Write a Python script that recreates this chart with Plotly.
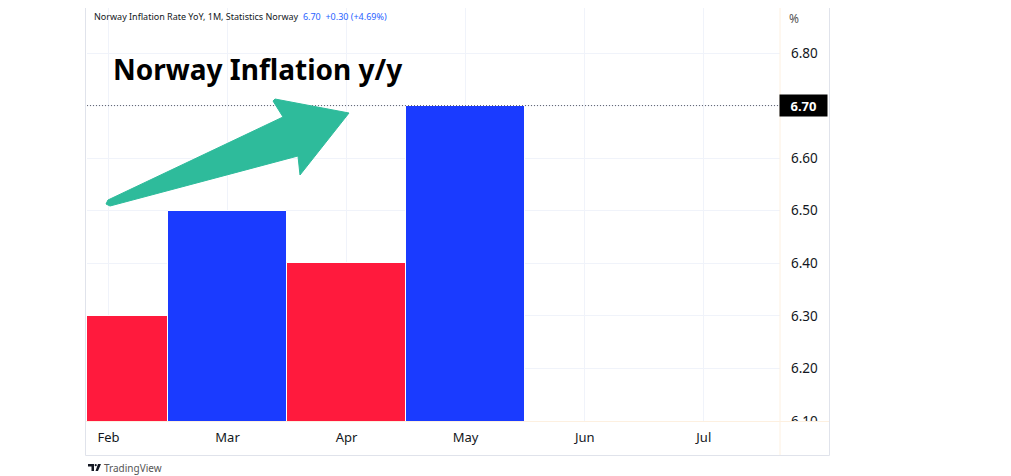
import plotly.graph_objects as go

# ---- data ----
months = ["Feb", "Mar", "Apr", "May"]
values = [6.30, 6.50, 6.40, 6.70]
all_months = ["Feb", "Mar", "Apr", "May", "Jun", "Jul"]
y_ticks = [6.10, 6.20, 6.30, 6.40, 6.50, 6.60, 6.70, 6.80]
last_value = 6.70

RED = "#ff1a3d"
BLUE = "#1a3bff"
TEAL = "#2ebb9b"
bar_colors = [RED, BLUE, RED, BLUE]

# page body has an 8px margin: figure occupies window pixels 8..1011 x 8..476
OX, OY = 8, 8
WIN_W, WIN_H = 1011, 476
L, R, T, B = 87, 780, 8, 421  # plot area in window pixels
PX_PER_UNIT = 525.7
y_top = 6.10 + (B - T) / PX_PER_UNIT


def px(x):
    return (x - L) / (R - L)


def py(y):
    return (B - y) / (B - T)


fig = go.Figure()
fig.add_trace(go.Bar(
    x=months, y=values, width=1.0,
    marker=dict(color=bar_colors, line=dict(color="white", width=1)),
    showlegend=False, hoverinfo="skip",
))

tick_text = ["" if abs(v - last_value) < 1e-9 else f"{v:.2f}" for v in y_ticks]

fig.update_layout(
    width=WIN_W - OX, height=WIN_H - OY,
    margin=dict(l=L - OX, r=WIN_W - R, t=T - OY, b=WIN_H - B, pad=0),
    paper_bgcolor="white", plot_bgcolor="white",
    bargap=0,
    font=dict(family="Noto Sans, sans-serif", color="#131722"),
    xaxis=dict(
        type="category", categoryorder="array", categoryarray=all_months,
        range=[-0.18, 5.64], showgrid=True, gridcolor="#f0f3fa", gridwidth=1,
        showline=False, zeroline=False, ticks="", ticklabelstandoff=7,
        tickfont=dict(size=13, color="#131722"),
    ),
    yaxis=dict(
        side="right", range=[6.10, y_top], tickvals=y_ticks, ticktext=tick_text,
        showgrid=True, gridcolor="#f0f3fa", gridwidth=1, showline=False,
        zeroline=False, ticks="", ticklabelstandoff=10,
        tickfont=dict(size=13.5, color="#131722"),
    ),
)

shapes = []
# last value dotted line
shapes.append(dict(type="line", xref="paper", yref="y", x0=0, x1=1,
                   y0=last_value, y1=last_value,
                   line=dict(color="#5d606b", width=1, dash="1px,2px"), layer="above"))
# arrow
pts = [(106, 204), (108, 200), (283, 117), (273, 101), (275, 99), (349, 113),
       (300, 175), (298, 156), (110, 206)]
path = "M " + " L ".join(f"{px(a):.5f},{py(b):.5f}" for a, b in pts) + " Z"
shapes.append(dict(type="path", xref="paper", yref="paper", path=path,
                   fillcolor=TEAL, line=dict(color=TEAL, width=1), layer="above"))
# cover bottom of lowest price label
shapes.append(dict(type="rect", xref="paper", yref="paper",
                   x0=px(781), x1=px(828), y0=py(455), y1=py(421.5),
                   fillcolor="white", line=dict(width=0), layer="above"))
# pane separators
shapes.append(dict(type="line", xref="paper", yref="paper",
                   x0=px(780), x1=px(780), y0=py(8), y1=py(455),
                   line=dict(color="#fdf0e0", width=1), layer="above"))
shapes.append(dict(type="line", xref="paper", yref="paper",
                   x0=px(85), x1=px(829), y0=py(421.5), y1=py(421.5),
                   line=dict(color="#fdf0e0", width=1), layer="above"))
# outer border (left, right, bottom)
shapes.append(dict(type="path", xref="paper", yref="paper",
                   path=(f"M {px(85.5):.5f},{py(8):.5f} L {px(85.5):.5f},{py(455.5):.5f} "
                         f"L {px(829.5):.5f},{py(455.5):.5f} L {px(829.5):.5f},{py(8):.5f}"),
                   line=dict(color="#e0e3eb", width=1), layer="above"))
# TradingView logo glyph
shapes.append(dict(type="path", xref="paper", yref="paper",
                   path=" ".join([
                       f"M {px(88):.5f},{py(464):.5f} L {px(94):.5f},{py(464):.5f} L {px(94):.5f},{py(471):.5f} L {px(91.5):.5f},{py(471):.5f} L {px(91.5):.5f},{py(466.5):.5f} L {px(88):.5f},{py(466.5):.5f} Z",
                       f"M {px(98):.5f},{py(464):.5f} L {px(101):.5f},{py(464):.5f} L {px(98):.5f},{py(471):.5f} L {px(95.5):.5f},{py(471):.5f} Z",
                   ]),
                   fillcolor="#131722", line=dict(width=0), layer="above"))
shapes.append(dict(type="circle", xref="paper", yref="paper",
                   x0=px(94.6), x1=px(96.8), y0=py(466.3), y1=py(464.1),
                   fillcolor="#131722", line=dict(width=0), layer="above"))
fig.update_layout(shapes=shapes)

ann = []
ann.append(dict(xref="paper", yref="paper", x=px(92), y=py(8), xanchor="left",
                yanchor="top", showarrow=False,
                text="Norway Inflation Rate YoY, 1M, Statistics Norway  "
                     "<span style='color:#2962ff'>6.70  +0.30 (+4.69%)</span>",
                font=dict(size=9, color="#131722")))
ann.append(dict(xref="paper", yref="paper", x=px(111), y=py(69), xanchor="left",
                yanchor="middle", showarrow=False, text="<b>Norway Inflation y/y</b>",
                font=dict(size=28, color="#000000")))
ann.append(dict(xref="paper", yref="paper", x=px(787), y=py(8), xanchor="left",
                yanchor="top", showarrow=False, text="%",
                font=dict(size=12, color="#555555")))
ann.append(dict(xref="paper", yref="y", x=px(779), y=last_value, xanchor="left",
                yanchor="middle", showarrow=False, text=f"<b>{last_value:.2f}</b>",
                font=dict(size=13, color="white"), bgcolor="#000000",
                width=41, height=15, align="center", borderpad=3))
ann.append(dict(xref="paper", yref="paper", x=px(102), y=py(467.5), xanchor="left",
                yanchor="middle", showarrow=False, text="TradingView",
                font=dict(size=10, color="#555555")))
fig.update_layout(annotations=ann)

fig.write_html("out.html")
